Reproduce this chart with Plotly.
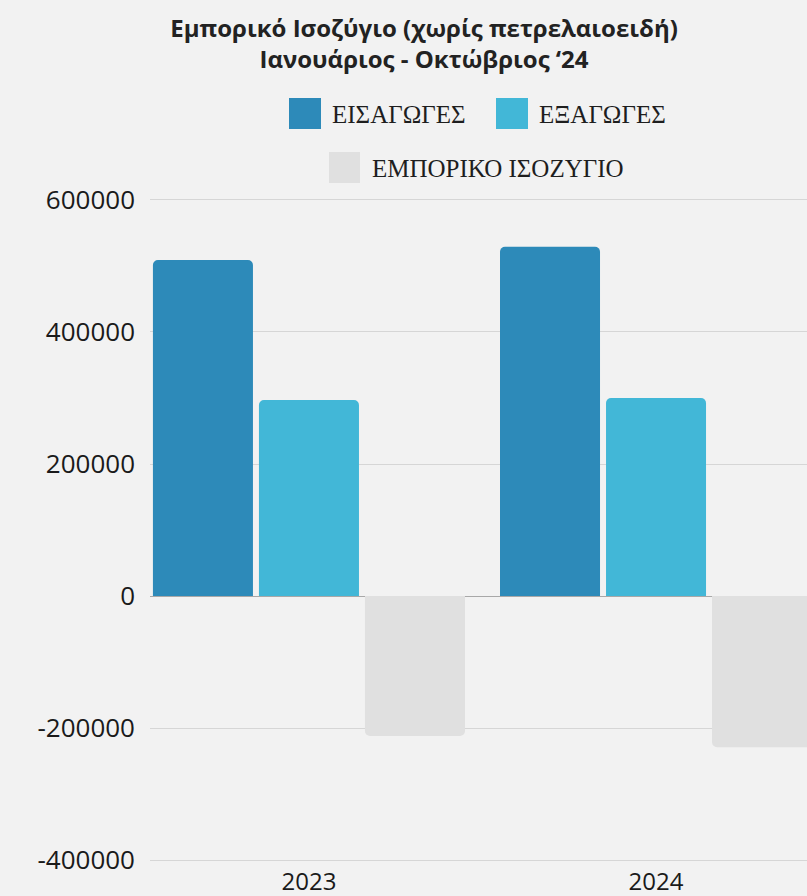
import plotly.graph_objects as go

# ---- data ----
categories = ["2023", "2024"]
series_names = ["ΕΙΣΑΓΩΓΕΣ", "ΕΞΑΓΩΓΕΣ", "ΕΜΠΟΡΙΚΟ ΙΣΟΖΥΓΙΟ"]
imports = [509000, 529000]
exports = [297000, 300000]
balance = [-212000, -229000]
y_tickvals = [-400000, -200000, 0, 200000, 400000, 600000]
y_ticktext = ["-400000", "-200000", "0", "200000", "400000", "600000"]
title_lines = ["Εμπορικό Ισοζύγιο (χωρίς πετρελαιοειδή)", "Ιανουάριος - Οκτώβριος ‘24"]

colors = ["#2D8AB9", "#42B7D7", "#E0E0E0"]

W, H = 807, 896
L, R, T, B = 150, 0, 198, 34
PW, PH = W - L - R, H - T - B


def px_x(px):
    return (px - L) / PW


def px_y(py):
    return (H - B - py) / PH


fig = go.Figure()
for name, vals, col in zip(series_names, [imports, exports, balance], colors):
    fig.add_trace(go.Bar(name=name, x=categories, y=vals, marker_color=col,
                         marker_line_width=0, showlegend=False))

# manual legend (large square swatches)
legend_items = [
    (289, 98, 32, 31, 330),
    (496, 98, 32, 31, 537),
    (329, 152, 31, 31, 370),
]
shapes = []
annotations = []
for (sx, sy, sw, sh, tx), name, col in zip(legend_items, series_names, colors):
    shapes.append(dict(type="rect", xref="paper", yref="paper",
                       x0=px_x(sx), x1=px_x(sx + sw), y0=px_y(sy + sh), y1=px_y(sy),
                       fillcolor=col, line_width=0, layer="above"))
    annotations.append(dict(text=name, xref="paper", yref="paper",
                            x=px_x(tx), y=px_y(sy + sh / 2 + 1), xanchor="left", yanchor="middle",
                            showarrow=False,
                            font=dict(family="Liberation Serif", size=25, color="#1e1e1e")))

fig.update_layout(
    width=W, height=H,
    margin=dict(l=L, r=R, t=T, b=B, autoexpand=False),
    paper_bgcolor="#F2F2F2", plot_bgcolor="#F2F2F2",
    barmode="group", bargap=0.0836, bargroupgap=0.0566, barcornerradius=5,
    title=dict(text="<b>" + title_lines[0] + "</b><br><b>" + title_lines[1] + "</b>",
               xref="container", yref="container", x=424 / W, xanchor="center",
               y=1 - 37 / H, yanchor="top",
               font=dict(family="Open Sans", size=24, color="#222222")),
    xaxis=dict(type="category", range=[-0.458, 1.435], showgrid=False, ticks="",
               showline=False, zeroline=False, automargin=False, ticklabelstandoff=3,
               tickfont=dict(family="Open Sans", size=24, color="#1a1a1a")),
    yaxis=dict(range=[-403000, 603000], tickvals=y_tickvals, ticktext=y_ticktext,
               showgrid=True, gridcolor="#D6D6D6", gridwidth=1,
               zeroline=True, zerolinecolor="#A8A8A8", zerolinewidth=1,
               ticks="", ticklabelstandoff=14, automargin=False, showline=False,
               tickfont=dict(family="Open Sans", size=26, color="#1a1a1a")),
    shapes=shapes, annotations=annotations,
    showlegend=False,
)

fig.write_html("out.html", config={"displayModeBar": False},
               post_script="document.body.style.margin='0';document.body.style.background='#F2F2F2';")
